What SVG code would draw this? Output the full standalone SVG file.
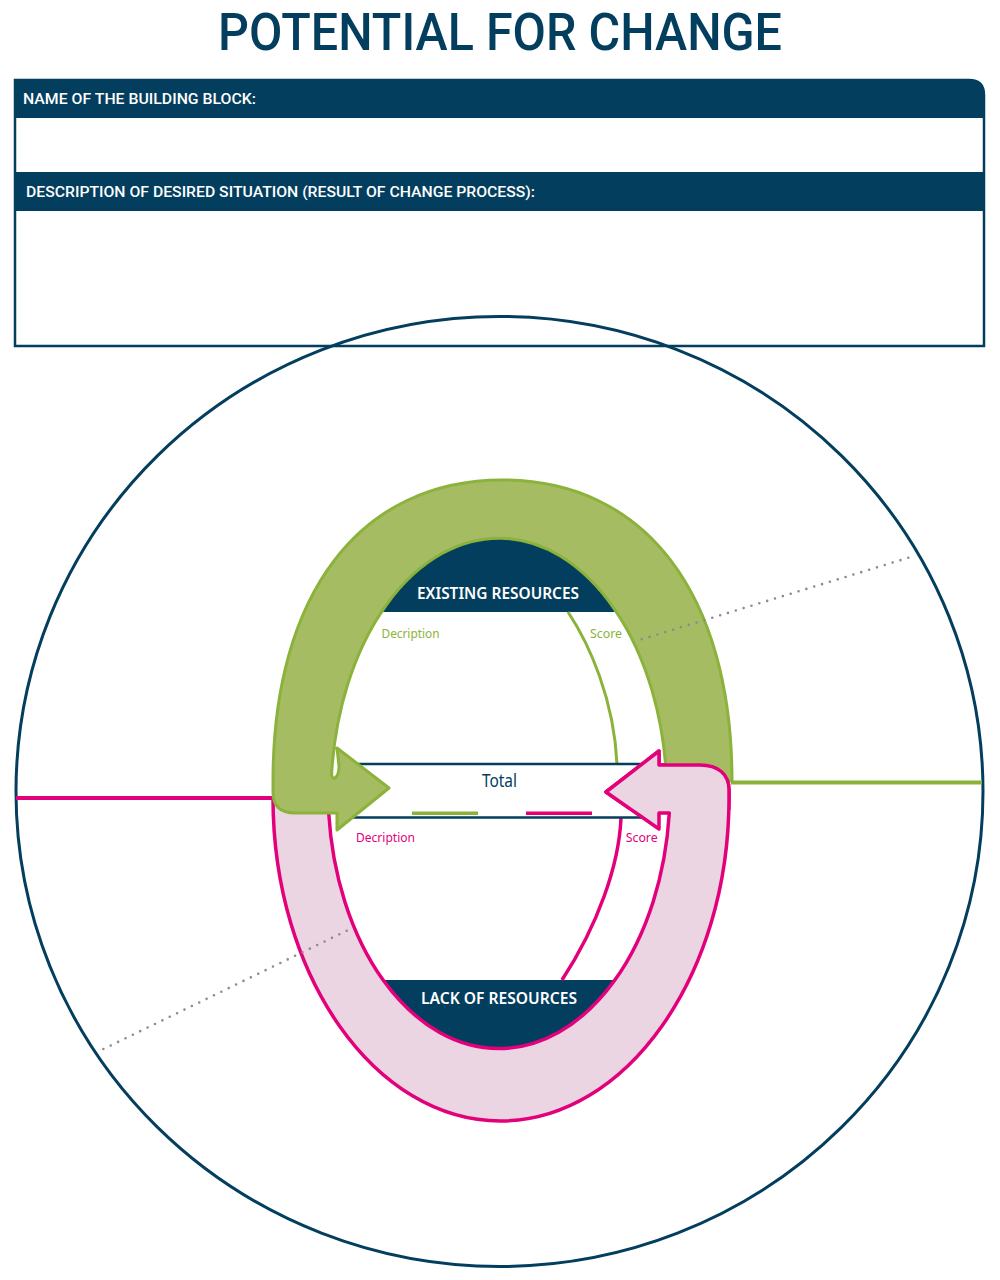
<svg xmlns="http://www.w3.org/2000/svg" width="1000" height="1280" viewBox="0 0 1000 1280">
<style>
.navy{fill:#033e5e}
.title{font-family:Roboto,"Liberation Sans",sans-serif;font-weight:500;font-size:51px;fill:#033e5e}
.hdr{font-family:Roboto,"Liberation Sans",sans-serif;font-weight:500;font-size:15px;fill:#ffffff}
.cap{font-family:"Noto Sans","Liberation Sans",sans-serif;font-weight:600;font-size:16px;fill:#ffffff}
.lbl{font-family:"Noto Sans","Liberation Sans",sans-serif;font-size:12.5px}
.g{fill:#8bb23b}
.p{fill:#e3007b}
.greenArrow{fill:#a6bc63;stroke:#8bb23b;stroke-width:3;stroke-linejoin:round}
.pinkArrow{fill:#ebd5e2;stroke:#e3007b;stroke-width:3.5;stroke-linejoin:round}
.dots{fill:none;stroke:#8c8c8c;stroke-width:2.6;stroke-linecap:round;stroke-dasharray:0 8.2}
</style>
<defs>
<clipPath id="innerClip"><ellipse cx="499" cy="796" rx="169" ry="259"/></clipPath>
<clipPath id="rightClip"><rect x="595" y="740" width="160" height="70"/></clipPath>
<path id="pinkShape" d="M 669.3 813 A 171 259 0 0 1 328.7 813 L 328.7 798 L 273 798 C 273 976 375 1121 500.5 1121 C 626 1121 729 976 729 798 L 729 790 C 729 774 718 765 700 765 L 659 765 L 659 751 L 606 792 L 659 829 L 659 813 Z"/>
</defs>

<g id="title">
<text class="title" x="500" y="50" text-anchor="middle" textLength="564" lengthAdjust="spacingAndGlyphs">POTENTIAL FOR CHANGE</text>
</g>

<g id="header-box">
<path d="M 15 80 L 969 80 Q 984 80 984 95 L 984 346 L 15 346 Z" fill="#ffffff" stroke="#033e5e" stroke-width="2.5"/>
<path class="navy" d="M 15 80 L 969 80 Q 984 80 984 95 L 984 118 L 15 118 Z"/>
<rect class="navy" x="15" y="172" width="969" height="39"/>
<text class="hdr" x="23" y="104" textLength="233" lengthAdjust="spacingAndGlyphs">NAME OF THE BUILDING BLOCK:</text>
<text class="hdr" x="26" y="197" textLength="509" lengthAdjust="spacingAndGlyphs">DESCRIPTION OF DESIRED SITUATION (RESULT OF CHANGE PROCESS):</text>
</g>

<g id="outer-circle">
<ellipse cx="499.5" cy="791.5" rx="483.5" ry="475" fill="none" stroke="#033e5e" stroke-width="3"/>
</g>

<g id="connectors">
<line x1="16" y1="798" x2="273" y2="798" stroke="#e3007b" stroke-width="4"/>
<line x1="731" y1="782.5" x2="982" y2="782.5" stroke="#8bb23b" stroke-width="4"/>
</g>

<g id="existing-resources">
<g clip-path="url(#innerClip)">
<rect class="navy" x="320" y="530" width="360" height="82"/>
</g>
<text class="cap" x="417" y="599" textLength="162" lengthAdjust="spacingAndGlyphs">EXISTING RESOURCES</text>
<path d="M 568 612 C 590 645 614 700 617 764" fill="none" stroke="#8bb23b" stroke-width="3"/>
<text class="lbl g" x="381.5" y="638" textLength="58" lengthAdjust="spacingAndGlyphs">Decription</text>
<text class="lbl g" x="590" y="638" textLength="32" lengthAdjust="spacingAndGlyphs">Score</text>
</g>

<g id="lack-of-resources">
<g clip-path="url(#innerClip)">
<rect class="navy" x="320" y="980" width="360" height="90"/>
</g>
<text class="cap" x="421" y="1004" textLength="156" lengthAdjust="spacingAndGlyphs">LACK OF RESOURCES</text>
<path d="M 621 818 C 619 865 598 925 562 980" fill="none" stroke="#e3007b" stroke-width="3.5"/>
<text class="lbl p" x="356" y="842" textLength="59" lengthAdjust="spacingAndGlyphs">Decription</text>
<text class="lbl p" x="625.7" y="842" textLength="32" lengthAdjust="spacingAndGlyphs">Score</text>
</g>

<g id="total">
<line x1="345" y1="764" x2="655" y2="764" stroke="#033e5e" stroke-width="2.5"/>
<line x1="345" y1="817.5" x2="655" y2="817.5" stroke="#033e5e" stroke-width="2.5"/>
<text x="482" y="787" font-family="'Noto Sans','Liberation Sans',sans-serif" font-size="17.5" fill="#033e5e" textLength="35" lengthAdjust="spacingAndGlyphs">Total</text>
<line x1="412" y1="813.3" x2="478" y2="813.3" stroke="#8bb23b" stroke-width="3.5"/>
<line x1="526" y1="813.3" x2="592" y2="813.3" stroke="#e3007b" stroke-width="3.5"/>
</g>

<g id="arrows">
<use href="#pinkShape" class="pinkArrow"/>
<path class="greenArrow" d="M 732 781 C 732 594 645 480 502.5 480 C 360 480 273 594 273 781 L 273 792 Q 273 813 295 813 L 337 813 L 337 830 L 389 788 L 337 748 L 339 766 C 339 778 332 782 331.6 774 A 168 259 0 0 1 666.6 781 L 732 781 Z"/>
<g clip-path="url(#rightClip)">
<use href="#pinkShape" class="pinkArrow"/>
</g>
</g>

<g id="dotted-lines">
<line class="dots" x1="641.7" y1="639.3" x2="911.7" y2="556.7"/>
<line class="dots" x1="346.7" y1="930.7" x2="100" y2="1050.7"/>
</g>
</svg>
